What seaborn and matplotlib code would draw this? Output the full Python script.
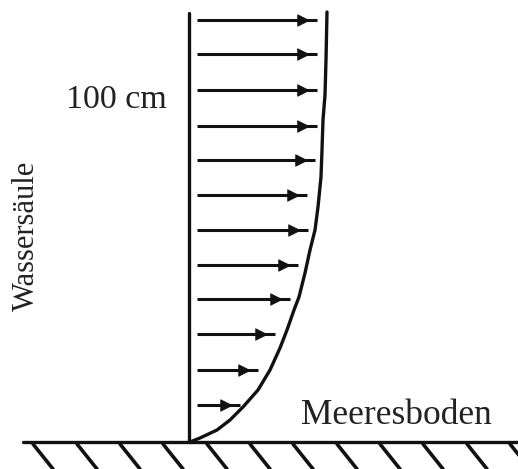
import matplotlib
matplotlib.use("Agg")
import matplotlib.pyplot as plt
import seaborn as sns
import pandas as pd

# Data (pixel-like units: x = flow speed position, y = depth from top)
arrow_depth = [20, 54, 90, 126, 160, 195, 230, 265, 299, 334, 370, 405]
arrow_tip = [317, 317, 317, 317, 315, 307, 308, 298, 290, 275, 258, 240]
profile_depth = [12, 60, 95, 120, 150, 177, 207, 230, 250, 273, 297, 310,
                 330, 348, 370, 390, 407, 420, 430, 438, 442]
profile_x = [327, 326, 325, 323, 322, 321, 318, 315, 310, 305, 299, 294,
             287, 280, 270, 258, 243, 230, 217, 200, 190]
hatch_x = [33, 77, 120, 163, 207, 250, 293, 337, 380, 423, 467, 510]
wall_x = 189
arrow_start = 197
ground_y = 442

sns.set_theme(style="white")
plt.rcParams["font.family"] = ["Liberation Serif", "DejaVu Serif"]

fig = plt.figure(figsize=(5.18, 4.69), dpi=100)
ax = fig.add_axes([0, 0, 1, 1])
ax.set_xlim(0, 518)
ax.set_ylim(469, 0)
ax.axis("off")

# wall (water column axis)
wall = pd.DataFrame({"x": [wall_x, wall_x], "y": [13, ground_y]})
sns.lineplot(data=wall, x="x", y="y", ax=ax, color="#111111",
             linewidth=2.4, sort=False, estimator=None)

# velocity profile curve
prof = pd.DataFrame({"x": profile_x, "y": profile_depth})
sns.lineplot(data=prof, x="x", y="y", ax=ax, color="#111111", linewidth=2.4,
             sort=False, estimator=None)

# arrows
for d, t in zip(arrow_depth, arrow_tip):
    ax.plot([arrow_start, t], [d, d], color="#111111", linewidth=2.2,
            solid_capstyle="butt")
arr = pd.DataFrame({"x": [t - 14 for t in arrow_tip], "y": arrow_depth})
sns.scatterplot(data=arr, x="x", y="y", ax=ax, marker=">", s=70,
                color="#111111", edgecolor="#111111", linewidth=0.5)

# seabed
ax.plot([23, 518], [ground_y, ground_y], color="#111111", linewidth=2.4)
for hx in hatch_x:
    ax.plot([hx, hx + 20], [ground_y + 2, 469], color="#111111", linewidth=2.6)

# labels
ax.text(116, 100, "100 cm", fontsize=24.5, ha="center", va="center",
        color="#222222")
ax.text(396, 416, "Meeresboden", fontsize=25.5, ha="center", va="center",
        color="#222222")
ax.text(26, 236, "Wassersäule", fontsize=22, ha="center", va="center",
        rotation=90, color="#222222")

fig.savefig("out.png", dpi=100)
